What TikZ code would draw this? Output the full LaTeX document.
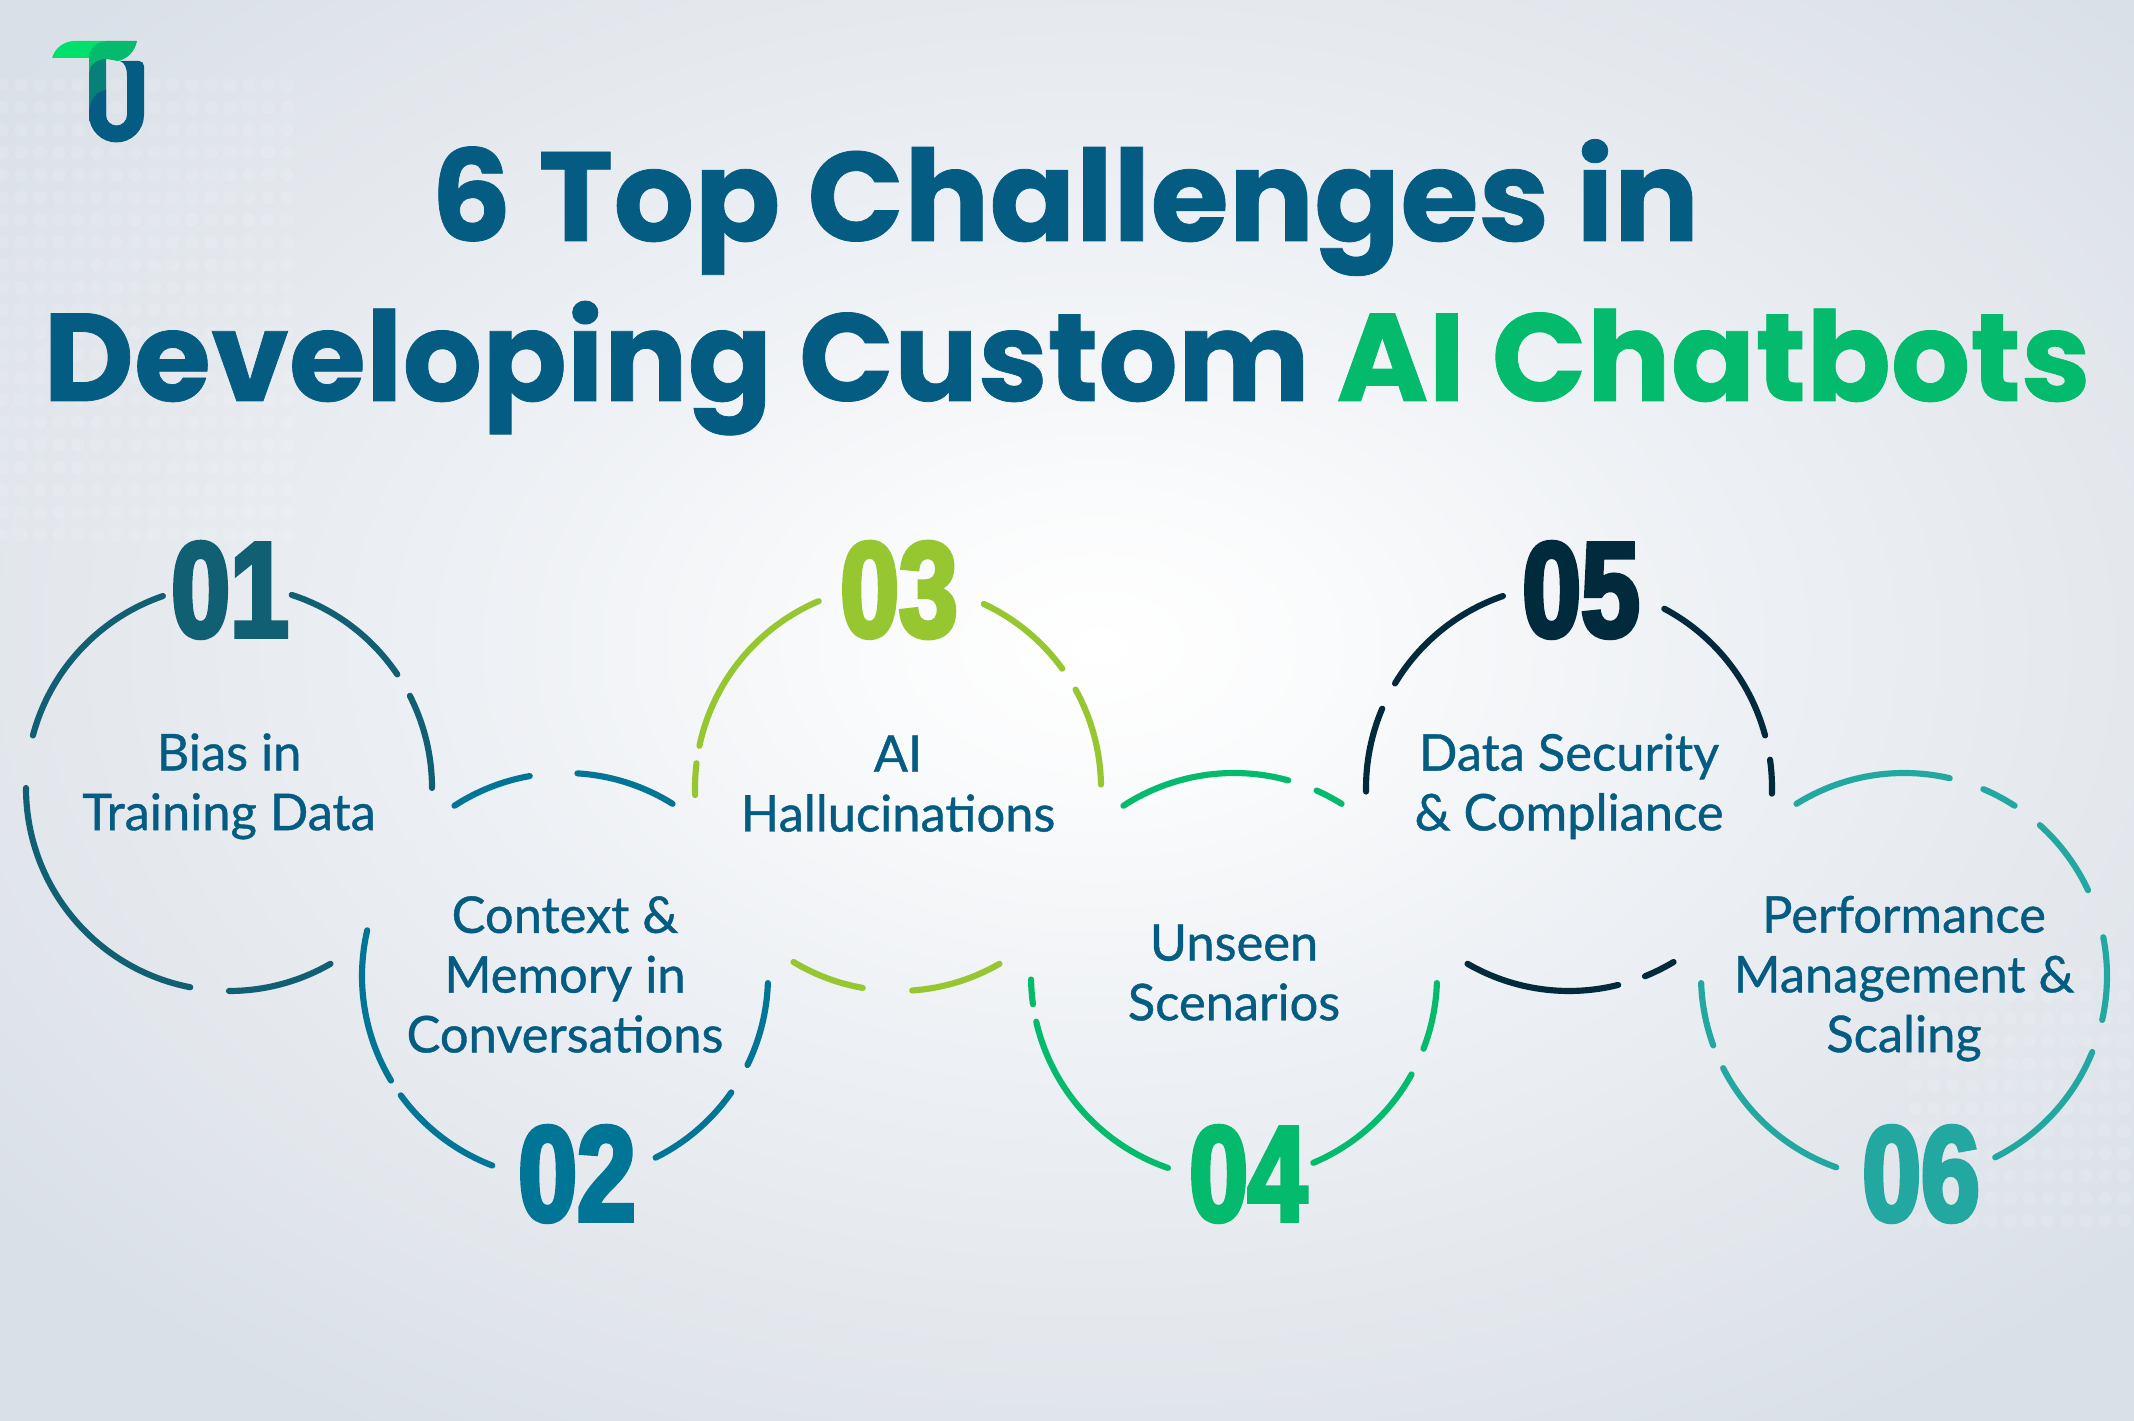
\documentclass[tikz,border=0pt]{standalone}
\usepackage{fontspec}
\setmainfont{Lato}
\newfontfamily\titlefont[UprightFont={* Bold},FakeBold=.6]{Poppins}
\newfontfamily\labelfont[FakeBold=.8]{Lato}
\newfontfamily\numfont[UprightFont={* Bold},FakeBold=3.5,FakeStretch=.78]{Liberation Sans}
\usetikzlibrary{calc}

\definecolor{inkblue}{HTML}{045C82}
\definecolor{chatgreen}{HTML}{04BA6C}
\definecolor{logolime}{HTML}{00E06C}
\definecolor{logostem}{HTML}{07807A}
\definecolor{ringA}{HTML}{105F72}
\definecolor{ringB}{HTML}{007596}
\definecolor{ringC}{HTML}{97C730}
\definecolor{ringD}{HTML}{04BA6C}
\definecolor{ringE}{HTML}{012B3C}
\definecolor{ringF}{HTML}{22A8A0}
\definecolor{glowA}{HTML}{FAFBFC}
\definecolor{glowB}{HTML}{EDF0F4}
\definecolor{glowC}{HTML}{E4E8ED}
\definecolor{glowD}{HTML}{DAE0E8}

\pgfdeclareradialshading{glow}{\pgfpointorigin}{color(0bp)=(white); color(4bp)=(glowA); color(11.5bp)=(glowB); color(18.5bp)=(glowC); color(25bp)=(glowD); color(50bp)=(glowD)}

\tikzset{
ring/.style={line width=1.75pt,line cap=round},
halftone/.style={fill=white,opacity=.11},
numlabel/.style={font=\numfont\fontsize{38.5}{38.5}\selectfont,inner sep=0pt},
challenge/.style={font=\labelfont\fontsize{14.4}{17}\selectfont,text=inkblue,align=center,inner sep=0pt},
headline/.style={font=\titlefont\fontsize{35.5}{36}\selectfont,text=inkblue,inner sep=0pt,anchor=base}
}

\def\rr{2.03}

\begin{document}
\begin{tikzpicture}
\useasboundingbox (0,0) rectangle (21.34,14.21);
\begin{scope}
\clip (0,0) rectangle (21.34,14.21);
\shade[shading=glow] (-3,-1.5) rectangle (25,17);
% dots in the corners
\foreach \i in {0,...,15}
  \foreach \j in {0,...,20}
    \fill[halftone] ({0.02+0.19*\i},{13.36-0.225*\j}) circle (0.068);
\foreach \i in {0,...,11}
  \foreach \j in {0,...,11}
    \fill[halftone] ({19.15+0.19*\i},{2.00+0.225*\j}) circle (0.068);
\end{scope}

% logo
\fill[logolime] (0.52,13.63) .. controls (0.55,13.73) and (0.64,13.80) .. (0.75,13.80) -- (1.10,13.80) -- (1.10,13.63) -- cycle;
\fill[chatgreen] (0.89,13.63) .. controls (0.89,13.73) and (0.98,13.80) .. (1.08,13.80) -- (1.37,13.80) .. controls (1.35,13.70) and (1.28,13.62) .. (1.18,13.60) -- (1.06,13.62) -- (0.89,13.50) -- cycle;
\fill[logostem] (0.89,13.49) .. controls (0.90,13.56) and (0.97,13.62) .. (1.06,13.62) -- (1.06,13.00) -- (0.89,13.00) -- cycle;
\fill[inkblue] (1.20,13.60) -- (1.39,13.60) arc[start angle=90,end angle=0,radius=0.05] -- (1.44,13.06) arc[start angle=0,end angle=-180,radius=0.275] .. controls (0.89,13.20) and (0.96,13.30) .. (1.06,13.31) -- (1.06,13.06) arc[start angle=180,end angle=360,radius=0.105] -- (1.27,13.45) .. controls (1.27,13.53) and (1.25,13.58) .. (1.20,13.60) -- cycle;

% title
\node[headline,font=\titlefont\fontsize{36.1}{36}\selectfont] (line1) at (10.65,11.80) {6 Top Challenges in};
\node[headline] (line2) at (10.67,10.20) {Developing Custom \textcolor{chatgreen}{AI Chatbots}};

% circle centres
\coordinate (c1) at (2.29,6.33);
\coordinate (c2) at (5.65,4.45);
\coordinate (c3) at (8.98,6.33);
\coordinate (c4) at (12.34,4.45);
\coordinate (c5) at (15.69,6.33);
\coordinate (c6) at (19.04,4.45);

\foreach \a/\b in {0/27,34/72,109/165,180/259,270/300}
  \draw[ring,ringA] ($(c1)+(\a:\rr)$) arc[start angle=\a,end angle=\b,radius=\rr];
\foreach \a/\b in {58/86.5,100/123,167/211,216/249,296.5/325,334/358}
  \draw[ring,ringB] ($(c2)+(\a:\rr)$) arc[start angle=\a,end angle=\b,radius=\rr];
\foreach \a/\b in {1/29,36/65,113/168,173/182,239/260,274/300}
  \draw[ring,ringC] ($(c3)+(\a:\rr)$) arc[start angle=\a,end angle=\b,radius=\rr];
\foreach \a/\b in {58/66,74.5/123,181/188,193/251,293/331,339/358}
  \draw[ring,ringD] ($(c4)+(\a:\rr)$) arc[start angle=\a,end angle=\b,radius=\rr];
\foreach \a/\b in {-1.6/8,15/62,109/149,157/181,240/284,292/301}
  \draw[ring,ringE] ($(c5)+(\a:\rr)$) arc[start angle=\a,end angle=\b,radius=\rr];
\foreach \a/\b in {-12.5/11,25/48,57/67,77/122,182/200,207/250.5,296.7/338}
  \draw[ring,ringF] ($(c6)+(\a:\rr)$) arc[start angle=\a,end angle=\b,radius=\rr];

% numbers
\node[numlabel,text=ringA] (n1) at (2.30,8.31) {01};
\node[numlabel,text=ringB] (n2) at (5.77,2.47) {02};
\node[numlabel,text=ringC] (n3) at (8.99,8.31) {03};
\node[numlabel,text=ringD] (n4) at (12.48,2.47) {04};
\node[numlabel,text=ringE] (n5) at (15.81,8.31) {05};
\node[numlabel,text=ringF] (n6) at (19.21,2.47) {06};

% labels
\node[challenge] (bias) at (2.29,6.346) {Bias in\\Training Data};
\node[challenge] (context) at (5.65,4.465) {Context \&\\Memory in\\Conversations};
\node[challenge] (halluc) at (8.98,6.373) {AI\\Hallucinations};
\node[challenge] (unseen) at (12.34,4.485) {Unseen\\Scenarios};
\node[challenge] (security) at (15.69,6.346) {Data Security\\\& Compliance};
\node[challenge] (perf) at (19.04,4.424) {Performance\\Management \&\\Scaling};
\end{tikzpicture}
\end{document}
